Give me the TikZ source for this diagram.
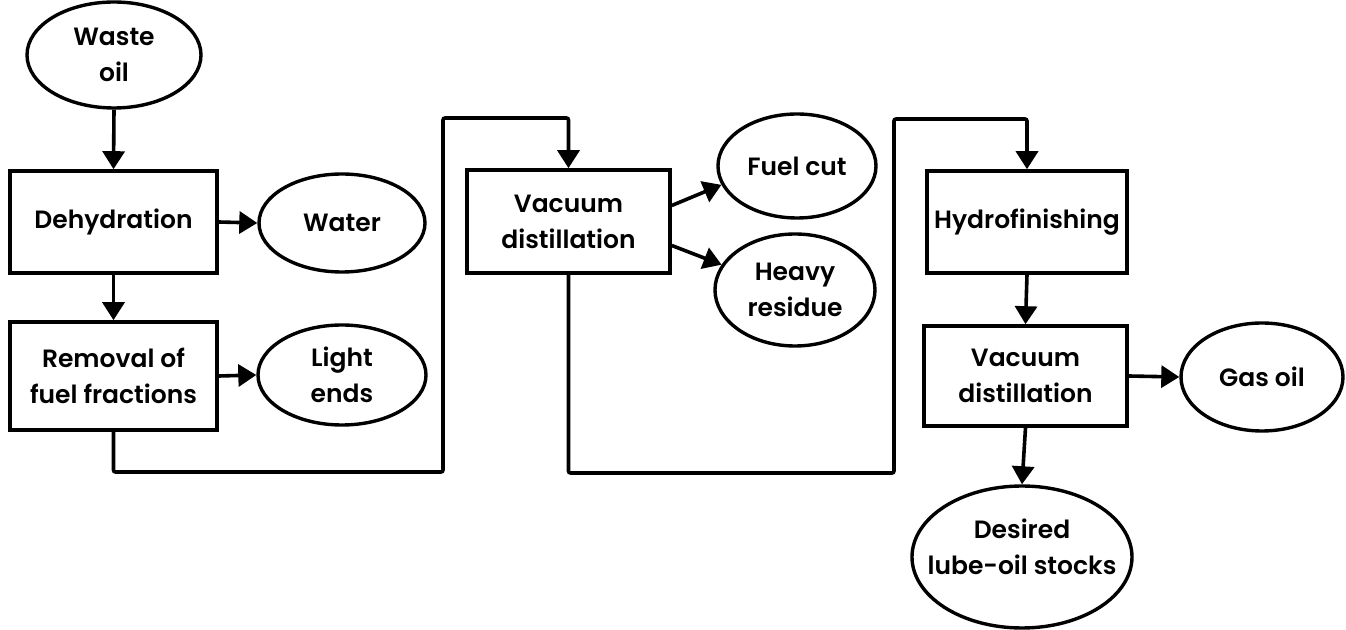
\documentclass[tikz,border=0pt]{standalone}
\usepackage{fontspec}
\setmainfont{Poppins}[UprightFont={* SemiBold}]
\usetikzlibrary{shapes.geometric,arrows.meta}
\tikzset{
  txt/.style={align=center, font=\fontsize{12.5}{18}\selectfont},
  procbox/.style={draw, line width=1.8pt, rectangle, inner sep=0pt, txt},
  prodell/.style={draw, line width=1.7pt, ellipse, inner sep=0pt},
  flow/.style={line width=1.8pt, -{Triangle[width=11pt,length=9pt]}},
}
\begin{document}
\begin{tikzpicture}[x=0.5pt,y=-0.5pt]
\useasboundingbox (0,0) rectangle (1346,630);
% nodes
\node[prodell, minimum width=87pt, minimum height=53pt, label={[txt]center:Waste\\oil}] (waste) at (114,55) {};
\node[procbox, minimum width=103.5pt, minimum height=51pt] (dehyd) at (113.5,222) {Dehydration};
\node[prodell, minimum width=83pt, minimum height=49pt, label={[txt]center:Water}] (water) at (342,223) {};
\node[procbox, minimum width=103.5pt, minimum height=54pt] (removal) at (113.5,376) {Removal of\\fuel fractions};
\node[prodell, minimum width=84pt, minimum height=50pt, label={[txt]center:Light\\ends}] (light) at (342,375) {};
\node[procbox, minimum width=101.5pt, minimum height=51.5pt] (vac1) at (568.5,221.5) {Vacuum\\distillation};
\node[prodell, minimum width=79pt, minimum height=52pt, label={[txt]center:Fuel cut}] (fuel) at (797,166) {};
\node[prodell, minimum width=80pt, minimum height=56pt, label={[txt]center:Heavy\\residue}] (heavy) at (795,290) {};
\node[procbox, minimum width=100pt, minimum height=51pt] (hydro) at (1027,222) {Hydrofinishing};
\node[procbox, minimum width=101.5pt, minimum height=50pt] (vac2) at (1025.5,376) {Vacuum\\distillation};
\node[prodell, minimum width=81pt, minimum height=54pt, label={[txt]center:Gas oil}] (gas) at (1262,377) {};
\node[prodell, minimum width=110pt, minimum height=71pt, label={[txt,yshift=5pt]center:Desired\\lube-oil stocks}] (desired) at (1022,557) {};
% bend points
\coordinate (k1) at (443,472);
\coordinate (k2) at (443,118);
\coordinate (k3) at (894,473);
\coordinate (k4) at (894,119);
% connectors
\draw[flow] (waste.south) -- (dehyd.north);
\draw[flow] (dehyd.east) -- (water.west);
\draw[flow] (dehyd.south) -- (removal.north);
\draw[flow] (removal.east) -- (light.west);
\draw[flow, rounded corners=1pt] (removal.south) |- (k1) -- (k2) -| (vac1.north);
\draw[flow] ([yshift=8pt]vac1.east) -- (fuel.194);
\draw[flow] ([yshift=-12pt]vac1.east) -- (heavy.161);
\draw[flow, rounded corners=1pt] (vac1.south) |- (k3) -- (k4) -| (hydro.north);
\draw[flow] (hydro.south) -- (vac2.north);
\draw[flow] (vac2.east) -- (gas.west);
\draw[flow] (vac2.south) -- (desired.north);
\end{tikzpicture}
\end{document}
